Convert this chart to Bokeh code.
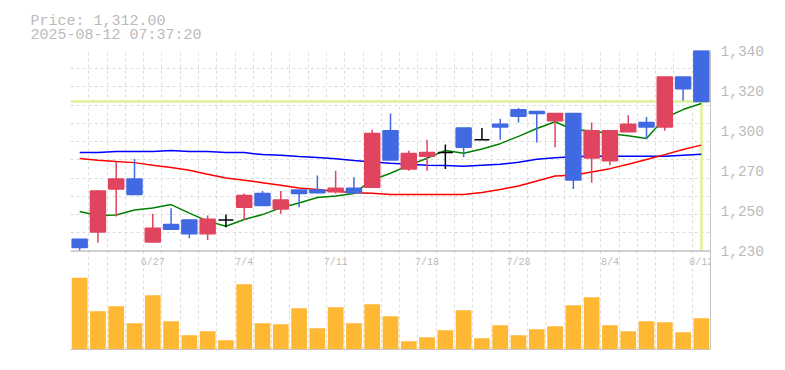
from bokeh.plotting import figure
from bokeh.models import ColumnDataSource, Range1d, FixedTicker, Span, Title
from bokeh.core.properties import value
from bokeh.embed import file_html
from bokeh.resources import INLINE

# ---------------- data ----------------
dates = ["6/23", "6/24", "6/25", "6/26", "6/27", "6/30", "7/1", "7/2", "7/3", "7/4",
         "7/7", "7/8", "7/9", "7/10", "7/11", "7/14", "7/15", "7/16", "7/17", "7/18",
         "7/22", "7/23", "7/24", "7/25", "7/28", "7/29", "7/30", "7/31", "8/1", "8/4",
         "8/5", "8/6", "8/7", "8/8", "8/12"]
opens = [1236.5, 1240.5, 1264, 1269.5, 1235, 1244.5, 1247, 1239.5, 1247, 1254,
         1261.5, 1253, 1263.5, 1263.5, 1262.5, 1264.5, 1265, 1296, 1275, 1282,
         1284, 1297.5, 1291, 1299.5, 1307.5, 1306.5, 1301.5, 1305.5, 1281, 1279.5,
         1295.5, 1300.5, 1298, 1325.5, 1340]
highs = [1236.5, 1263.5, 1279, 1280.5, 1250.5, 1253.5, 1247.5, 1249.5, 1250, 1261.5,
         1263, 1263, 1263.5, 1271.5, 1274, 1270.5, 1296.5, 1305.5, 1285, 1291,
         1288.5, 1297.5, 1297.5, 1302.5, 1308.5, 1306.5, 1305.5, 1305.5, 1300.5, 1296,
         1304.5, 1303.5, 1325.5, 1325.5, 1340]
lows = [1230, 1234.5, 1249, 1261, 1235, 1242, 1237, 1236, 1243, 1247,
        1255, 1250.5, 1254, 1261.5, 1261.5, 1261.5, 1265, 1280, 1274, 1274,
        1275, 1281.5, 1291, 1291, 1300.5, 1289.5, 1287, 1264, 1267.5, 1277,
        1295.5, 1291.5, 1296, 1312.5, 1312]
closes = [1232, 1263, 1269.5, 1261, 1242.5, 1242, 1239.5, 1247.5, 1247, 1260.5,
          1255, 1258, 1261.5, 1262, 1264.5, 1262, 1294.5, 1280, 1283.5, 1284,
          1284, 1287, 1291, 1298, 1304, 1305.5, 1305.5, 1269, 1296, 1296,
          1299.5, 1298, 1325.5, 1319, 1312]
volumes = [717, 383, 433, 263, 543, 283, 143, 183, 93, 653,
           263, 253, 413, 213, 423, 263, 453, 333, 83, 123,
           193, 393, 113, 243, 143, 203, 233, 443, 523, 243,
           183, 283, 273, 173, 313]
ma_short = [1251.7, 1249.5, 1249.8, 1252.5, 1253.6, 1255.5, 1250.8, 1246.4, 1243.6, 1247.3,
            1250.0, 1253.7, 1256.4, 1259.4, 1260.2, 1261.6, 1269.0, 1272.7, 1277.0, 1280.9,
            1285.2, 1283.7, 1286.0, 1288.9, 1292.9, 1297.2, 1300.9, 1296.5, 1296.0, 1294.3,
            1293.2, 1291.7, 1303.0, 1307.6, 1310.9]
ma_mid = [1280.7, 1279.8, 1279.1, 1278.5, 1277.1, 1275.8, 1274.3, 1272.1, 1270.1, 1268.8,
          1267.5, 1266.1, 1264.6, 1263.7, 1262.8, 1262.0, 1261.7, 1261.0, 1261.0, 1261.0,
          1261.0, 1261.0, 1262.1, 1263.8, 1265.7, 1268.4, 1271.2, 1271.6, 1273.4, 1275.2,
          1277.6, 1280.2, 1282.9, 1285.7, 1288.1]
ma_long = [1284.0, 1284.0, 1284.6, 1284.6, 1284.6, 1285.1, 1284.6, 1284.6, 1284.0, 1284.0,
           1282.9, 1282.6, 1281.8, 1281.3, 1280.6, 1279.6, 1278.9, 1278.2, 1277.6, 1277.1,
           1276.9, 1276.5, 1277.1, 1277.6, 1278.7, 1280.4, 1281.2, 1281.7, 1282.0, 1282.0,
           1282.0, 1282.0, 1282.0, 1282.6, 1283.1]
price_ticks = [1230, 1252, 1274, 1296, 1318, 1340]
price_tick_labels = ["1,230", "1,250", "1,270", "1,300", "1,320", "1,340"]
date_labels = ["6/27", "7/4", "7/11", "7/18", "7/28", "8/4", "8/12"]
title_price = "Price: 1,312.00"
title_time = "2025-08-12 07:37:20"

# ---------------- styling ----------------
UP, DOWN, FLAT = "#E0445E", "#4169E1", "#000000"
VOL = "#FFB833"
GRID = "#dcdcdc"
BORDER = "#c4c4c4"
TXT = "#bbbbbb"
MONO = "Liberation Mono"

n = len(dates)
idx = list(range(n))
colors = [UP if c > o else (DOWN if c < o else FLAT) for o, c in zip(opens, closes)]
src = ColumnDataSource(dict(
    x=idx, open=opens, high=highs, low=lows, close=closes,
    top=[max(o, c) for o, c in zip(opens, closes)],
    bottom=[min(o, c) for o, c in zip(opens, closes)],
    color=colors, vol=volumes,
))

p = figure(width=777, height=362, output_backend="svg", toolbar_location=None,
           title=None, x_range=Range1d(-0.5, n - 0.5), y_range=Range1d(1176, 1340),
           y_axis_location="right",
           min_border_left=70, min_border_right=67, min_border_top=50, min_border_bottom=13)
p.outline_line_color = None
p.background_fill_color = "white"
p.extra_y_ranges = {"vol": Range1d(0, 2990)}

# grids
p.xgrid.ticker = FixedTicker(ticks=[i - 0.5 for i in range(n + 1)])
p.ygrid.ticker = FixedTicker(ticks=list(range(price_ticks[0], price_ticks[-1] + 1, 10)))
for g in (p.xgrid, p.ygrid):
    g.grid_line_color = GRID
    g.grid_line_dash = "3 3"
    g.grid_line_width = 1

# axes
p.yaxis.ticker = FixedTicker(ticks=price_ticks)
p.yaxis.major_label_overrides = {t: l for t, l in zip(price_ticks, price_tick_labels)}
p.yaxis.axis_line_color = BORDER
p.yaxis.major_tick_out = 0
p.yaxis.major_tick_in = 0
p.yaxis.minor_tick_out = 0
p.yaxis.minor_tick_in = 0
p.yaxis.major_label_standoff = 10
p.yaxis.major_label_text_font = MONO
p.yaxis.major_label_text_font_size = "14.5px"
p.yaxis.major_label_text_color = TXT
p.yaxis.major_label_text_baseline = "middle"

p.xaxis.ticker = FixedTicker(ticks=[])
p.xaxis.axis_line_color = BORDER
p.xaxis.major_tick_out = 0
p.xaxis.minor_tick_out = 0
p.xaxis.major_label_text_font_size = "0px"

# current price marker (behind candles)
cur = Span(location=closes[-1], dimension="width", line_color="#E2F2A8", line_width=3, level="underlay")
p.add_layout(cur)
p.segment(x0=[idx[-1]], y0=[price_ticks[0]], x1=[idx[-1]], y1=[closes[-1]],
          line_color="#E2F2A8", line_width=3)

# panel separator
p.add_layout(Span(location=price_ticks[0], dimension="width", line_color=BORDER, line_width=1.5))

# volume
p.vbar(x="x", top="vol", width=0.86, source=src, y_range_name="vol",
       fill_color=VOL, line_color=None)

# moving averages
p.line(idx, ma_long, line_color="#0000FF", line_width=1.5)
p.line(idx, ma_mid, line_color="#FF0000", line_width=1.5)
p.line(idx, ma_short, line_color="#008000", line_width=1.5)

# candles
p.segment(x0="x", y0="low", x1="x", y1="high", line_color="color", line_width=1.5, source=src)
p.vbar(x="x", top="top", bottom="bottom", width=0.82, fill_color="color",
       line_color="color", line_width=1.5, source=src)

# date labels inside top of volume panel
lab_x = [dates.index(d) for d in date_labels]
p.text(x=lab_x, y=[price_ticks[0] - 6.2] * len(lab_x), text=date_labels,
       text_align="center", text_baseline="middle", text_font=value(MONO),
       text_font_size=value("10px"), text_color=TXT)

# two-line header
p.add_layout(Title(text=title_price + "\n" + title_time, align="left", offset=-40, standoff=12,
                   text_font=MONO, text_font_size="15px", text_color=TXT,
                   text_font_style="normal", text_line_height=0.85), "above")

open("out.html", "w").write(file_html(p, INLINE))
